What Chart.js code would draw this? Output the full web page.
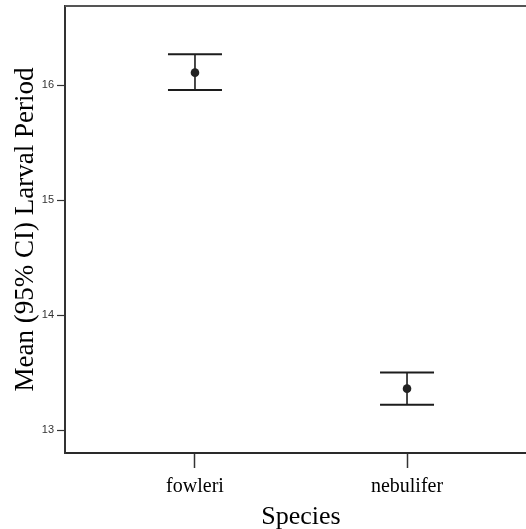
<!DOCTYPE html>
<html>
<head>
<meta charset="utf-8">
<script src="https://cdn.jsdelivr.net/npm/chart.js@4/dist/chart.umd.min.js"></script>
<style>
  html, body { margin: 0; padding: 0; background: #fff; overflow: hidden; }
  #wrap { width: 545px; height: 529px; }
</style>
</head>
<body>
<div id="wrap"><canvas id="c" width="545" height="529"></canvas></div>
<script>
// Larval period by species: mean with 95% confidence interval
const species = ['fowleri', 'nebulifer'];
const meanPeriod = [16.11, 13.36];
const ciLower = [15.96, 13.22];
const ciUpper = [16.27, 13.50];
const yTicks = [13, 14, 15, 16];
const speciesPos = [1, 2];

const points = species.map((s, i) => ({ x: speciesPos[i], y: meanPeriod[i] }));

// Vertical CI line with horizontal caps, drawn under the mean markers
const errorBars = {
  id: 'errorBars',
  beforeDatasetsDraw(chart) {
    const { ctx, scales: { x, y } } = chart;
    const capHalf = 27;
    ctx.save();
    ctx.strokeStyle = '#1c1c1c';
    species.forEach((s, i) => {
      const px = x.getPixelForValue(speciesPos[i]);
      const lo = y.getPixelForValue(ciLower[i]);
      const hi = y.getPixelForValue(ciUpper[i]);
      ctx.lineWidth = 1.6;
      ctx.beginPath();
      ctx.moveTo(px, hi);
      ctx.lineTo(px, lo);
      ctx.stroke();
      ctx.lineWidth = 2;
      ctx.beginPath();
      ctx.moveTo(px - capHalf, hi);
      ctx.lineTo(px + capHalf, hi);
      ctx.moveTo(px - capHalf, lo);
      ctx.lineTo(px + capHalf, lo);
      ctx.stroke();
    });
    ctx.restore();
  }
};

// Top and right edges of the plot frame
const frame = {
  id: 'frame',
  afterDraw(chart) {
    const { ctx, chartArea: a } = chart;
    ctx.save();
    ctx.strokeStyle = '#555';
    ctx.lineWidth = 2;
    ctx.beginPath();
    ctx.moveTo(a.left, a.top);
    ctx.lineTo(a.right, a.top);
    ctx.lineTo(a.right, a.bottom);
    ctx.stroke();
    ctx.restore();
  }
};

new Chart(document.getElementById('c'), {
  type: 'scatter',
  data: {
    datasets: [{
      data: points,
      pointRadius: 4.3,
      pointHoverRadius: 4.3,
      pointBackgroundColor: '#222',
      pointBorderColor: '#222',
      pointBorderWidth: 0,
      showLine: false
    }]
  },
  options: {
    responsive: false,
    animation: false,
    events: [],
    layout: { padding: { left: 0, top: 6, right: 8, bottom: 0 } },
    plugins: { legend: { display: false }, tooltip: { enabled: false } },
    scales: {
      x: {
        type: 'linear',
        min: 0.387,
        max: 2.613,
        afterFit(scale) {
          scale.height = 76;
          scale.paddingLeft = 0;
          scale.paddingRight = 0;
        },
        afterBuildTicks(scale) { scale.ticks = speciesPos.map(v => ({ value: v })); },
        border: { display: true, color: '#2a2a2a', width: 2 },
        grid: { display: true, drawOnChartArea: false, tickLength: 15, tickColor: '#333', tickWidth: 1.5 },
        ticks: {
          padding: 7,
          color: '#000',
          font: { family: '"Liberation Serif", "Times New Roman", serif', size: 20 },
          callback: (v) => species[speciesPos.indexOf(v)] ?? ''
        },
        title: {
          display: true,
          text: 'Species',
          color: '#000',
          font: { family: '"Liberation Serif", "Times New Roman", serif', size: 26, lineHeight: 0.88 },
          padding: { top: 0, bottom: 0 }
        }
      },
      y: {
        type: 'linear',
        min: 12.80,
        max: 16.69,
        afterFit(scale) {
          scale.width = 65;
          scale.paddingTop = 0;
          scale.paddingBottom = 0;
        },
        afterBuildTicks(scale) { scale.ticks = yTicks.map(v => ({ value: v })); },
        border: { display: true, color: '#333', width: 2 },
        grid: { display: true, drawOnChartArea: false, tickLength: 8, tickColor: '#333', tickWidth: 1.2 },
        ticks: {
          padding: 3,
          color: '#333',
          font: { family: 'Arial, "Liberation Sans", sans-serif', size: 11 },
          callback: (v) => String(v)
        },
        title: {
          display: true,
          text: 'Mean (95% CI) Larval Period',
          color: '#000',
          font: { family: '"Liberation Serif", "Times New Roman", serif', size: 27, lineHeight: 1 },
          padding: { top: 12.5, bottom: 0 }
        }
      }
    }
  },
  plugins: [errorBars, frame]
});
</script>
</body>
</html>
